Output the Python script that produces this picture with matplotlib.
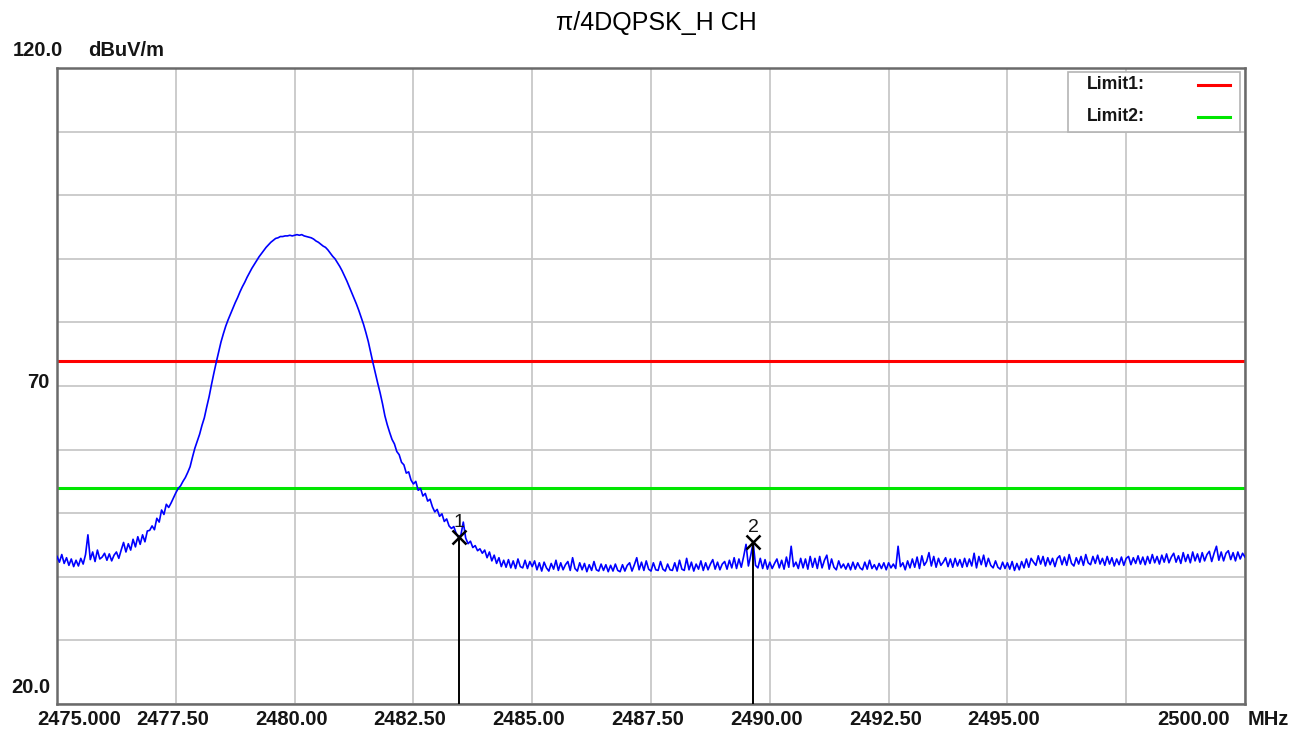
import matplotlib
matplotlib.use("Agg")
import matplotlib.pyplot as plt
from matplotlib.patches import Rectangle
import numpy as np

# sweep settings (MHz) and limits (dBuV/m)
f_start = 2475.0
f_stop = 2500.0
limit1 = 74.0
limit2 = 54.0

# measured trace, one reading every 0.05 MHz, one row per MHz
level = [
    43.2, 42.3, 43.5, 42.1, 43.0, 41.8, 42.8, 41.6, 42.6, 41.7, 42.9, 42.0, 43.5, 46.6, 42.7, 43.9, 42.4, 44.2, 42.8, 43.1,
    43.7, 42.6, 43.6, 42.5, 43.4, 43.9, 42.9, 44.2, 45.4, 43.9, 45.2, 44.2, 45.9, 44.7, 46.3, 45.1, 46.6, 45.5, 47.2, 47.3,
    48.0, 47.4, 49.2, 48.6, 50.5, 49.8, 51.4, 50.9, 51.6, 52.4, 53.2, 53.9, 54.3, 55.0, 55.6, 56.4, 57.3, 58.8, 60.2, 61.3,
    62.4, 63.8, 65.0, 66.7, 68.3, 70.2, 72.0, 73.7, 75.3, 76.9, 78.2, 79.4, 80.4, 81.3, 82.2, 83.1, 83.9, 84.8, 85.6, 86.3,
    87.1, 87.8, 88.5, 89.1, 89.7, 90.3, 90.8, 91.3, 91.8, 92.2, 92.6, 92.9, 93.2, 93.3, 93.5, 93.5, 93.6, 93.6, 93.7, 93.6,
    93.7, 93.8, 93.7, 93.8, 93.6, 93.5, 93.4, 93.3, 93.1, 92.8, 92.6, 92.3, 92.0, 91.8, 91.4, 90.9, 90.4, 90.0, 89.4, 88.8,
    88.1, 87.3, 86.5, 85.6, 84.7, 83.8, 82.9, 81.9, 80.8, 79.7, 78.4, 77.0, 75.3, 73.6, 72.0, 70.4, 68.9, 67.2, 65.3, 63.9,
    62.7, 61.6, 60.9, 59.7, 59.2, 58.0, 57.6, 56.3, 56.5, 55.2, 54.6, 55.0, 53.6, 53.9, 52.7, 53.1, 51.9, 52.2, 51.0, 50.2,
    50.6, 49.5, 49.9, 48.7, 49.1, 48.0, 47.6, 47.9, 46.8, 46.2, 46.6, 48.6, 46.1, 45.2, 45.6, 44.6, 44.9, 44.1, 44.4, 43.7,
    44.2, 43.0, 43.9, 42.5, 43.4, 42.1, 43.0, 41.6, 42.6, 41.5, 42.7, 41.4, 42.5, 41.3, 42.8, 41.6, 41.4, 42.6, 41.3, 42.4,
    41.6, 42.5, 41.1, 42.2, 40.9, 42.3, 41.4, 40.9, 42.1, 41.2, 42.6, 41.0, 42.2, 41.1, 41.9, 42.4, 41.0, 43.0, 41.3, 40.9,
    42.2, 41.1, 42.1, 40.8, 41.9, 41.0, 42.4, 41.1, 40.9, 42.0, 41.0, 41.9, 40.8, 41.8, 40.9, 42.0, 41.0, 40.8, 41.9, 40.9,
    41.8, 42.2, 40.9, 41.9, 43.0, 41.1, 42.3, 41.0, 42.5, 41.2, 40.9, 42.2, 41.1, 41.0, 42.4, 41.2, 40.9, 42.0, 41.1, 41.0,
    42.2, 40.9, 42.6, 41.2, 41.0, 42.9, 41.1, 42.3, 40.9, 42.0, 41.2, 42.5, 41.0, 42.2, 41.1, 42.0, 42.7, 41.2, 42.3, 41.1,
    42.0, 42.4, 41.2, 42.6, 41.4, 43.0, 41.3, 42.8, 41.5, 43.2, 45.1, 41.7, 43.4, 45.4, 41.8, 41.4, 42.9, 41.3, 42.7, 41.2,
    42.3, 41.3, 42.1, 42.8, 41.4, 42.6, 41.2, 43.1, 41.5, 44.8, 41.6, 42.3, 41.3, 42.9, 41.4, 42.8, 41.2, 43.2, 41.5, 42.9,
    41.3, 43.2, 41.4, 42.6, 43.4, 41.2, 42.8, 41.5, 41.1, 42.5, 41.4, 42.0, 41.2, 42.1, 41.1, 42.3, 41.2, 42.2, 41.4, 41.1,
    42.3, 41.2, 42.6, 41.3, 41.9, 41.1, 42.1, 41.3, 42.2, 41.1, 42.2, 41.4, 42.0, 41.3, 44.8, 41.6, 42.2, 41.1, 42.5, 41.4,
    42.8, 41.5, 43.1, 41.3, 43.3, 41.8, 42.4, 43.8, 41.7, 43.2, 41.5, 42.9, 41.8, 42.3, 43.0, 41.6, 42.8, 41.5, 42.9, 41.7,
    42.7, 41.5, 42.9, 41.6, 42.8, 41.7, 43.7, 41.4, 43.2, 41.9, 43.4, 41.6, 42.9, 41.8, 41.4, 42.5, 41.5, 41.2, 42.3, 41.3,
    42.2, 41.2, 42.4, 41.0, 42.1, 41.1, 42.4, 41.4, 42.8, 41.5, 42.9, 42.3, 41.8, 43.3, 42.0, 43.2, 41.7, 43.0, 41.9, 42.9,
    41.6, 42.9, 43.3, 41.9, 43.1, 41.8, 43.5, 42.1, 41.7, 43.0, 42.0, 43.2, 41.8, 43.5, 42.2, 41.9, 43.2, 42.1, 43.4, 42.0,
    42.9, 41.8, 43.2, 42.0, 43.0, 41.7, 42.8, 41.9, 43.1, 41.8, 42.9, 43.2, 41.9, 43.0, 42.1, 43.3, 42.0, 43.1, 41.9, 43.2,
    42.1, 43.5, 42.2, 43.2, 42.0, 43.4, 42.3, 43.6, 42.2, 43.1, 43.7, 42.3, 43.3, 42.1, 43.8, 42.4, 43.5, 42.2, 43.9, 42.5,
    43.6, 42.3, 43.8, 42.5, 43.5, 44.0, 42.4, 43.7, 44.8, 42.6, 43.9, 42.5, 43.7, 44.1, 42.7, 43.8, 42.5, 43.9, 42.8, 43.7,
    43.1,
]

marker_freq = [2483.45, 2489.65]
marker_name = ["1", "2"]

x_tick_vals = [2475.0, 2477.5, 2480.0, 2482.5, 2485.0, 2487.5, 2490.0, 2492.5, 2495.0, 2497.5, 2500.0]
x_tick_text = ["2475.000", "2477.50", "2480.00", "2482.50", "2485.00", "2487.50",
               "2490.00", "2492.50", "2495.00", "", "2500.00"]
y_tick_vals = list(range(20, 121, 10))

freq = np.linspace(f_start, f_stop, len(level))
level = np.array(level)

plt.rcParams["font.family"] = ["Liberation Sans", "DejaVu Sans"]
TXT = "#151515"
LBL = dict(fontsize=14.5, fontweight="bold", color=TXT)

fig = plt.figure(figsize=(13.05, 7.36), dpi=100)
ax = fig.add_axes([0.0437, 0.0435, 0.9103, 0.8641])

ax.set_xlim(f_start, f_stop)
ax.set_ylim(20, 120)
ax.set_xticks(x_tick_vals)
ax.set_yticks(y_tick_vals)
ax.tick_params(length=0, labelbottom=False, labelleft=False)
ax.grid(True, color="#c8c8c8", lw=1.3)
for s in ax.spines.values():
    s.set_color("#6a6a6a")
    s.set_linewidth(1.8)

ax.axhline(limit1, color="#ff0000", lw=2.2, zorder=2)
ax.axhline(limit2, color="#00e600", lw=2.2, zorder=2)
ax.plot(freq, level, color="#0000ff", lw=1.2, zorder=3)

# markers sit on the nearest sweep point
for mf, name in zip(marker_freq, marker_name):
    i = int(np.argmin(np.abs(freq - mf)))
    ax.plot([freq[i], freq[i]], [20, level[i]], color="black", lw=1.4, zorder=4)
    ax.plot(freq[i], level[i], marker="x", ms=10, mew=1.8, color="black", zorder=5)
    ax.text(freq[i], level[i] + 1.0, name, ha="center", va="bottom", fontsize=14, color=TXT, zorder=5)

# frequency labels under the frame
xt = ax.get_xaxis_transform()
for v, t in zip(x_tick_vals, x_tick_text):
    if not t:
        continue
    if v == f_start:
        ax.text(v - 0.42, -0.025, t, transform=xt, ha="left", va="center", **LBL)
    elif v == f_stop:
        ax.text(v - 0.31, -0.025, t, transform=xt, ha="right", va="center", **LBL)
    else:
        ax.text(v - 0.07, -0.025, t, transform=xt, ha="center", va="center", **LBL)
ax.text(1.002, -0.025, "MHz", transform=ax.transAxes, ha="left", va="center", **LBL)

# level labels
yt = ax.get_yaxis_transform()
ax.text(0.005, 1.028, "120.0", transform=ax.transAxes, ha="right", va="center", **LBL)
ax.text(0.026, 1.028, "dBuV/m", transform=ax.transAxes, ha="left", va="center", **LBL)
ax.text(-0.006, 70.6, "70", transform=yt, ha="right", va="center", **LBL)
ax.text(-0.006, 22.6, "20.0", transform=yt, ha="right", va="center", **LBL)

# limit legend box, top right inside the frame
ax.add_patch(Rectangle((0.851, 0.8994), 0.1448, 0.0943, transform=ax.transAxes,
                       facecolor="white", edgecolor="#b4b4b4", lw=1.2, zorder=6))
for yy, name, col in [(0.9733, "Limit1:", "#ff0000"), (0.923, "Limit2:", "#00e600")]:
    ax.text(0.867, yy, name, transform=ax.transAxes, ha="left", va="center",
            fontsize=12.7, fontweight="bold", color=TXT, zorder=7)
    ax.plot([0.9604, 0.9874], [yy, yy], transform=ax.transAxes, color=col, lw=2.2, zorder=7)

fig.text(0.503, 0.969, "π/4DQPSK_H CH", ha="center", va="center", fontsize=18, color="black")

fig.savefig("out.png", dpi=100, facecolor="white")
